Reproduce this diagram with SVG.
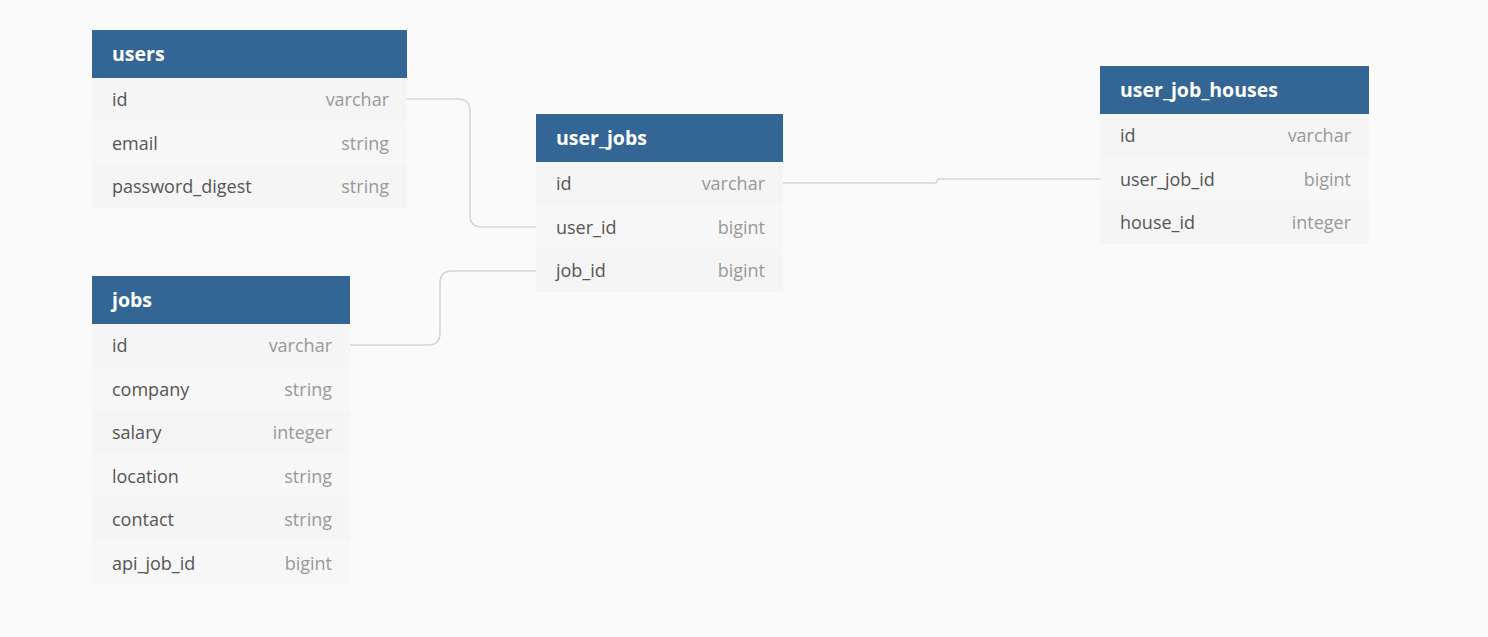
<svg xmlns="http://www.w3.org/2000/svg" width="1488" height="637" viewBox="0 0 1488 637">
<style>
.bg{fill:#fafafa}
.hd{fill:#336694}
.ra{fill:#f5f5f5}
.rb{fill:#f7f7f7}
.ht{font-family:"Open Sans",sans-serif;font-weight:bold;font-size:19.5px;fill:#ffffff}
.fn{font-family:"Open Sans",sans-serif;font-size:18px;fill:#555555}
.ft{font-family:"Open Sans",sans-serif;font-size:18px;fill:#999999;text-anchor:end}
.cn{fill:none;stroke:#d4d4d4;stroke-width:1.5}
</style>
<rect class="bg" x="0" y="0" width="1488" height="637"/>
<g id="connectors">
<path class="cn" d="M407,99 H458 Q470,99 470,111 V215 Q470,227 482,227 H536"/>
<path class="cn" d="M350,345 H428 Q440,345 440,333 V283 Q440,271 452,271 H536"/>
<path class="cn" d="M783,183 H936 L938,179 H1100"/>
</g>
<g id="users">
<rect class="hd" x="92" y="30" width="315" height="48"/>
<text class="ht" x="112" y="61">users</text>
<rect class="ra" x="92" y="78" width="315" height="43.3"/>
<rect class="rb" x="92" y="121.3" width="315" height="43.3"/>
<rect class="ra" x="92" y="164.6" width="315" height="43.4"/>
<text class="fn" x="112" y="106">id</text><text class="ft" x="389" y="106">varchar</text>
<text class="fn" x="112" y="150">email</text><text class="ft" x="389" y="150">string</text>
<text class="fn" x="112" y="193">password_digest</text><text class="ft" x="389" y="193">string</text>
</g>
<g id="user_jobs">
<rect class="hd" x="536" y="114" width="247" height="48"/>
<text class="ht" x="556" y="145">user_jobs</text>
<rect class="ra" x="536" y="162" width="247" height="43.3"/>
<rect class="rb" x="536" y="205.3" width="247" height="43.3"/>
<rect class="ra" x="536" y="248.6" width="247" height="43.4"/>
<text class="fn" x="556" y="190">id</text><text class="ft" x="765" y="190">varchar</text>
<text class="fn" x="556" y="234">user_id</text><text class="ft" x="765" y="234">bigint</text>
<text class="fn" x="556" y="277">job_id</text><text class="ft" x="765" y="277">bigint</text>
</g>
<g id="user_job_houses">
<rect class="hd" x="1100" y="66" width="269" height="48"/>
<text class="ht" x="1120" y="97">user_job_houses</text>
<rect class="ra" x="1100" y="114" width="269" height="43.3"/>
<rect class="rb" x="1100" y="157.3" width="269" height="43.3"/>
<rect class="ra" x="1100" y="200.6" width="269" height="43.4"/>
<text class="fn" x="1120" y="142">id</text><text class="ft" x="1351" y="142">varchar</text>
<text class="fn" x="1120" y="186">user_job_id</text><text class="ft" x="1351" y="186">bigint</text>
<text class="fn" x="1120" y="229">house_id</text><text class="ft" x="1351" y="229">integer</text>
</g>
<g id="jobs">
<rect class="hd" x="92" y="276" width="258" height="48"/>
<text class="ht" x="112" y="307">jobs</text>
<rect class="ra" x="92" y="324" width="258" height="43.3"/>
<rect class="rb" x="92" y="367.3" width="258" height="43.3"/>
<rect class="ra" x="92" y="410.6" width="258" height="43.4"/>
<rect class="rb" x="92" y="454" width="258" height="43.3"/>
<rect class="ra" x="92" y="497.3" width="258" height="43.3"/>
<rect class="rb" x="92" y="540.6" width="258" height="43.4"/>
<text class="fn" x="112" y="352">id</text><text class="ft" x="332" y="352">varchar</text>
<text class="fn" x="112" y="396">company</text><text class="ft" x="332" y="396">string</text>
<text class="fn" x="112" y="439">salary</text><text class="ft" x="332" y="439">integer</text>
<text class="fn" x="112" y="483">location</text><text class="ft" x="332" y="483">string</text>
<text class="fn" x="112" y="526">contact</text><text class="ft" x="332" y="526">string</text>
<text class="fn" x="112" y="570">api_job_id</text><text class="ft" x="332" y="570">bigint</text>
</g>
</svg>
